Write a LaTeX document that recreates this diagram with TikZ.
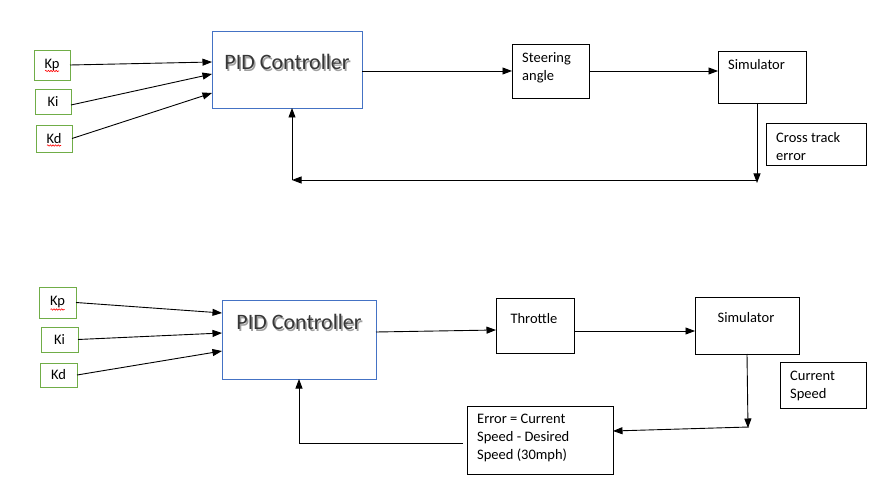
\documentclass[tikz,border=0pt]{standalone}
\usepackage{fontspec}
\setmainfont{Carlito}
\usetikzlibrary{arrows.meta,decorations.pathmorphing}
\definecolor{kgreen}{RGB}{112,173,71}
\definecolor{pidblue}{RGB}{68,114,196}
\definecolor{pidtextcol}{RGB}{55,55,55}
\definecolor{shadowgray}{RGB}{160,160,160}
\newcommand\pidlabel{\makebox[0pt][l]{\hspace{1.5pt}\raisebox{-1.5pt}{\color{shadowgray}PID Controller}}PID Controller}
\begin{document}
\begin{tikzpicture}[x=1pt,y=-1pt,
  box/.style={draw, line width=0.9pt, rectangle, anchor=north west, inner sep=0pt, outer sep=0pt},
  gbox/.style={box, draw=kgreen, font=\fontsize{14.5}{17}\selectfont},
  bbox/.style={box, draw=pidblue},
  txt/.style={anchor=north west, inner sep=0pt, align=left, font=\fontsize{14.5}{18}\selectfont},
  ctxt/.style={anchor=north, inner sep=0pt, font=\fontsize{14.5}{18}\selectfont},
  arr/.style={line width=0.9pt, -{Triangle[length=9.5pt,width=7pt]}},
  ln/.style={line width=0.9pt},
  squig/.style={draw=red, line width=0.6pt, decorate, decoration={snake, amplitude=0.7pt, segment length=2.6pt}},
  pidtext/.style={font=\fontsize{22}{26}\selectfont, inner sep=0pt, text=pidtextcol}
]
\useasboundingbox (0,0) rectangle (892,497);
\fill[white] (0,0) rectangle (892,497);

% ---------- top loop ----------
\node[gbox, minimum width=36pt, minimum height=30pt] (kp1) at (34,50) {Kp};
\node[gbox, minimum width=36pt, minimum height=25pt] (ki1) at (35,89) {Ki};
\node[gbox, minimum width=36pt, minimum height=27pt] (kd1) at (36,125) {Kd};
\node[bbox, minimum width=150pt, minimum height=77pt] (pid1) at (212,31) {};
\node[pidtext] (pidt1) at ([yshift=-32pt]pid1.north) {\pidlabel};
\node[box, minimum width=77pt, minimum height=54pt] (steer) at (512,44) {};
\node[txt] (steert) at ([xshift=10pt,yshift=-8.5pt]steer.north west) {Steering\\angle};
\node[box, minimum width=88pt, minimum height=52pt] (sim1) at (718,51) {};
\node[txt] (sim1t) at ([xshift=10pt,yshift=-8pt]sim1.north west) {Simulator};
\node[box, minimum width=100pt, minimum height=42pt] (cte) at (766,123) {};
\node[txt] (ctet) at ([xshift=10pt,yshift=-9pt]cte.north west) {Cross track\\error};

\draw[arr] (kp1.east) -- ([yshift=-31pt]pid1.north west);
\draw[arr] ([yshift=-16pt]ki1.north east) -- ([yshift=-43pt]pid1.north west);
\draw[arr] (kd1.east) -- ([yshift=-62pt]pid1.north west);
\draw[arr] (pid1.east |- steer.west) -- (steer.west);
\draw[arr] (steer.east) -- (steer.east -| sim1.west);

\coordinate (t1) at (757,183);
\coordinate (t2) at (757,180);
\coordinate (t3) at (292,180);
\draw[arr] ([xshift=-5pt]sim1.south) -- (t1);
\draw[arr] (t2) -- (t3);
\draw[arr] (t3) -- ([xshift=5pt]pid1.south);

\draw[squig] ([xshift=-7pt,yshift=-6pt]kp1.center) -- ([xshift=7pt,yshift=-6pt]kp1.center);
\draw[squig] ([xshift=-7pt,yshift=-7pt]kd1.center) -- ([xshift=7pt,yshift=-7pt]kd1.center);

% ---------- bottom loop ----------
\node[gbox, minimum width=37pt, minimum height=31pt] (kp2) at (39,287) {Kp};
\node[gbox, minimum width=37pt, minimum height=25pt] (ki2) at (41,327) {Ki};
\node[gbox, minimum width=37pt, minimum height=24pt] (kd2) at (40,363) {Kd};
\node[bbox, minimum width=154pt, minimum height=79pt] (pid2) at (222,300) {};
\node[pidtext] (pidt2) at ([yshift=-23pt]pid2.north) {\pidlabel};
\node[box, minimum width=78pt, minimum height=55pt] (thr) at (496,298) {};
\node[ctxt] (thrt) at ([xshift=-1pt,yshift=-15pt]thr.north) {Throttle};
\node[box, minimum width=104pt, minimum height=57pt] (sim2) at (695,297) {};
\node[ctxt] (sim2t) at ([xshift=-1pt,yshift=-15.5pt]sim2.north) {Simulator};
\node[box, minimum width=86pt, minimum height=46pt] (cs) at (780,362) {};
\node[txt] (cst) at ([xshift=10pt,yshift=-9pt]cs.north west) {Current\\Speed};
\node[box, minimum width=146pt, minimum height=68pt] (err) at (467,406) {};
\node[txt] (errt) at ([xshift=10pt,yshift=-8pt]err.north west) {Error = Current\\Speed - Desired\\Speed (30mph)};

\draw[arr] (kp2.east) -- ([yshift=-13pt]pid2.north west);
\draw[arr] (ki2.east) -- ([yshift=-33pt]pid2.north west);
\draw[arr] (kd2.east) -- ([yshift=-51pt]pid2.north west);
\draw[arr] ([yshift=-32pt]pid2.north east) -- ([yshift=-32pt]thr.north west);
\draw[arr] ([yshift=-33pt]thr.north east) -- ([yshift=-33pt]thr.north east -| sim2.west);

\coordinate (b1) at (748,428);
\coordinate (b2) at (749,427);
\coordinate (b3) at (299,443);
\draw[arr] (sim2.south) -- (b1);
\draw[arr] (b2) -- ([yshift=-25pt]err.north east);
\draw[ln] ([xshift=-4pt,yshift=-37pt]err.north west) -- (b3);
\draw[arr] (b3) -- (pid2.south);

\draw[squig] ([xshift=-7pt,yshift=-7pt]kp2.center) -- ([xshift=7pt,yshift=-7pt]kp2.center);
\end{tikzpicture}
\end{document}
